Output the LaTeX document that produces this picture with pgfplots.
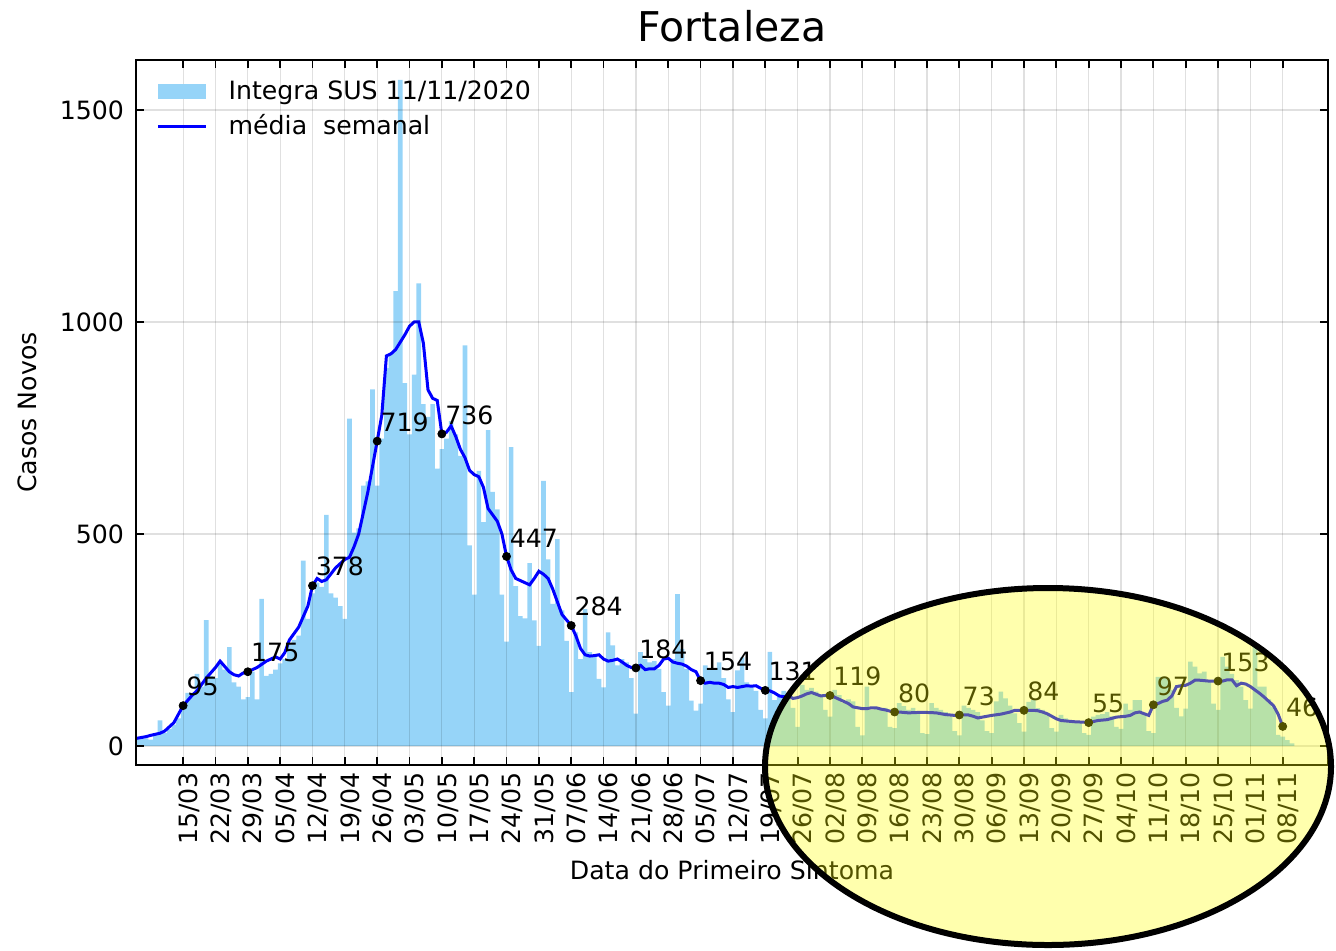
\documentclass[border=0pt]{standalone}
\usepackage{fontspec}
\setmainfont{DejaVu Sans}
\usepackage{pgfplots}
\pgfplotsset{compat=1.18}
\usepackage{pgfplotstable}
\definecolor{barblue}{RGB}{150,212,248}
\definecolor{hl}{RGB}{255,255,0}
\newcommand\fs{\fontsize{12.6}{15}\selectfont}

% casos diarios, d = dias desde 15/03
\pgfplotstableread{
d v
-10 20
-9 22
-8 18
-7 15
-6 25
-5 60
-4 30
-3 40
-2 50
-1 65
0 95
1 125
2 125
3 170
4 140
5 297
6 165
7 160
8 200
9 180
10 233
11 150
12 140
13 110
14 115
15 175
16 110
17 347
18 165
19 170
20 180
21 195
22 205
23 240
24 250
25 260
26 437
27 300
28 360
29 385
30 375
31 545
32 360
33 350
34 330
35 300
36 772
37 503
38 513
39 614
40 624
41 841
42 614
43 725
44 891
45 926
46 1073
47 1571
48 856
49 735
50 876
51 1091
52 806
53 776
54 806
55 654
56 700
57 725
58 766
59 735
60 684
61 945
62 473
63 357
64 649
65 528
66 745
67 599
68 558
69 357
70 246
71 705
72 377
73 306
74 301
75 431
76 296
77 236
78 625
79 440
80 335
81 488
82 320
83 248
84 127
85 268
86 205
87 323
88 221
89 213
90 158
91 138
92 268
93 237
94 190
95 205
96 197
97 160
98 76
99 221
100 205
101 197
102 200
103 182
104 127
105 95
106 205
107 358
108 229
109 182
110 107
111 83
112 100
113 190
114 182
115 180
116 197
117 160
118 110
119 80
120 178
121 209
122 150
123 140
124 130
125 85
126 65
127 222
128 108
129 116
130 130
131 124
132 90
133 45
134 144
135 132
136 137
137 128
138 120
139 85
140 69
141 132
142 120
143 101
144 110
145 105
146 45
147 25
148 140
149 85
150 90
151 85
152 90
153 45
154 42
155 101
156 94
157 85
158 90
159 75
160 30
161 28
162 101
163 90
164 85
165 80
166 70
167 35
168 25
169 95
170 90
171 85
172 80
173 60
174 35
175 30
176 105
177 128
178 112
179 95
180 77
181 54
182 34
183 104
184 108
185 89
186 85
187 75
188 42
189 34
190 73
191 65
192 61
193 55
194 55
195 30
196 26
197 69
198 73
199 75
200 80
201 70
202 45
203 40
204 100
205 85
206 108
207 108
208 75
209 35
210 30
211 163
212 163
213 160
214 132
215 90
216 70
217 88
218 199
219 187
220 171
221 175
222 155
223 100
224 85
225 210
226 187
227 170
228 155
229 140
230 108
231 88
232 242
233 140
234 140
235 110
236 92
237 26
238 22
239 14
240 6
}\daily

% media semanal
\pgfplotstableread{
d v
-10 18
-8 22
-7 25
-5 30
-4 35
-2 55
0 95
2 120
3 130
5 160
7 185
8 200
10 175
11 168
12 165
13 172
14 175
16 185
18 200
19 205
20 210
21 205
22 220
23 250
25 280
27 330
28 378
29 395
30 388
31 392
33 420
35 440
36 445
37 470
38 500
40 600
42 719
43 780
44 920
45 925
46 935
48 970
49 990
50 1000
51 1000
52 950
53 840
54 820
55 815
56 736
57 740
58 755
59 730
60 700
61 680
62 650
63 640
64 635
65 610
66 560
67 545
68 530
69 500
70 447
71 415
72 395
73 390
74 385
75 380
76 395
77 412
78 405
79 395
80 370
81 340
82 310
84 284
85 260
86 230
87 215
88 212
89 213
90 215
91 205
92 200
93 202
94 205
95 198
96 190
97 185
98 184
99 190
100 180
101 182
102 182
103 190
104 205
105 207
106 198
107 195
108 193
109 188
110 180
111 175
112 154
113 148
114 150
115 148
116 148
117 145
118 138
119 140
120 138
121 140
122 142
123 141
124 142
125 136
126 131
127 130
128 125
129 118
130 116
131 118
132 112
133 114
134 118
135 123
136 126
137 122
138 118
139 119
140 119
141 115
142 110
143 105
144 100
145 92
146 90
147 88
148 88
149 90
150 90
151 87
152 85
153 82
154 80
155 80
157 78
159 79
161 79
163 78
165 74
167 72
168 73
170 73
171 70
172 66
173 68
175 72
177 75
179 80
180 84
182 84
184 84
185 83
186 80
187 76
188 70
189 64
190 60
191 59
193 57
195 56
196 55
198 60
200 62
202 68
204 70
205 72
206 78
207 80
208 76
209 72
210 97
211 100
212 105
213 108
214 118
215 140
216 142
217 143
218 148
219 155
220 155
221 154
222 153
224 153
225 153
226 156
227 156
228 142
229 148
230 146
231 140
232 132
233 124
234 115
235 105
236 95
237 75
238 46
}\media

\pgfplotstableread{
d v
0 95
14 175
28 378
42 719
56 736
70 447
84 284
98 184
112 154
126 131
140 119
154 80
168 73
182 84
196 55
210 97
224 153
238 46
}\marcos

\begin{document}
\begin{tikzpicture}
\useasboundingbox (0,0) rectangle (668pt,475pt);
\begin{axis}[
  at={(68pt,92.5pt)}, anchor=south west,
  scale only axis, width=596pt, height=352.5pt,
  xmin=-10.2, xmax=247.8, ymin=-45, ymax=1618,
  xtick={0,7,...,238},
  xticklabels={15/03,22/03,29/03,05/04,12/04,19/04,26/04,03/05,10/05,17/05,24/05,31/05,07/06,14/06,21/06,28/06,05/07,12/07,19/07,26/07,02/08,09/08,16/08,23/08,30/08,06/09,13/09,20/09,27/09,04/10,11/10,18/10,25/10,01/11,08/11},
  ytick={0,500,1000,1500},
  /pgf/number format/.cd, 1000 sep={}, assume math mode=true, /pgfplots/.cd,
  tick label style={font=\fs},
  x tick label style={rotate=90, anchor=east, yshift=-3pt},
  y tick label style={xshift=-2.5pt},
  tick align=inside, major tick length=4pt,
  tick style={black, line width=0.9pt},
  grid=major,
  major grid style={black, opacity=0.12, line width=0.6pt},
  axis line style={line width=1.3pt},
  axis on top,
  title={Fortaleza},
  title style={at={(axis description cs:0.5,1.031)}, anchor=center, font=\fontsize{20.5}{24}\selectfont},
  xlabel={Data do Primeiro Sintoma},
  xlabel style={at={(axis description cs:0.5,-0.149)}, anchor=center, font=\fs},
  ylabel={Casos Novos},
  ylabel style={at={(axis description cs:-0.0915,0.5)}, anchor=center, font=\fs},
  legend style={at={(axis description cs:0.012,0.982)}, anchor=north west, draw=none, fill=none, font=\fs, row sep=2pt},
  legend cell align=left,
]
\addplot[ybar, bar width=1, bar shift=0, fill=barblue, draw=none,
  legend image code/.code={\fill[barblue] (0pt,-3.75pt) rectangle (24pt,3.75pt); \path (32.5pt,0pt);}]
  table[x=d, y=v]{\daily};
\addplot[blue, line width=1.5pt, mark=none,
  legend image code/.code={\draw[blue, line width=1.5pt] (0pt,0pt) -- (24pt,0pt); \path (32.5pt,0pt);}]
  table[x=d, y=v]{\media};
\addplot[only marks, mark=*, mark size=2pt, black,
  nodes near coords, point meta=explicit symbolic,
  every node near coord/.style={anchor=south west, inner sep=0pt, xshift=1.5pt, yshift=4.5pt, font=\fs, black}]
  table[x=d, y=v, meta=v]{\marcos};
\legend{Integra SUS 11/11/2020, média\ \ semanal}
\end{axis}
\draw[line width=3pt, fill=hl, fill opacity=0.32] (524pt,91.75pt) ellipse [x radius=141.5pt, y radius=89.25pt];
\end{tikzpicture}
\end{document}
